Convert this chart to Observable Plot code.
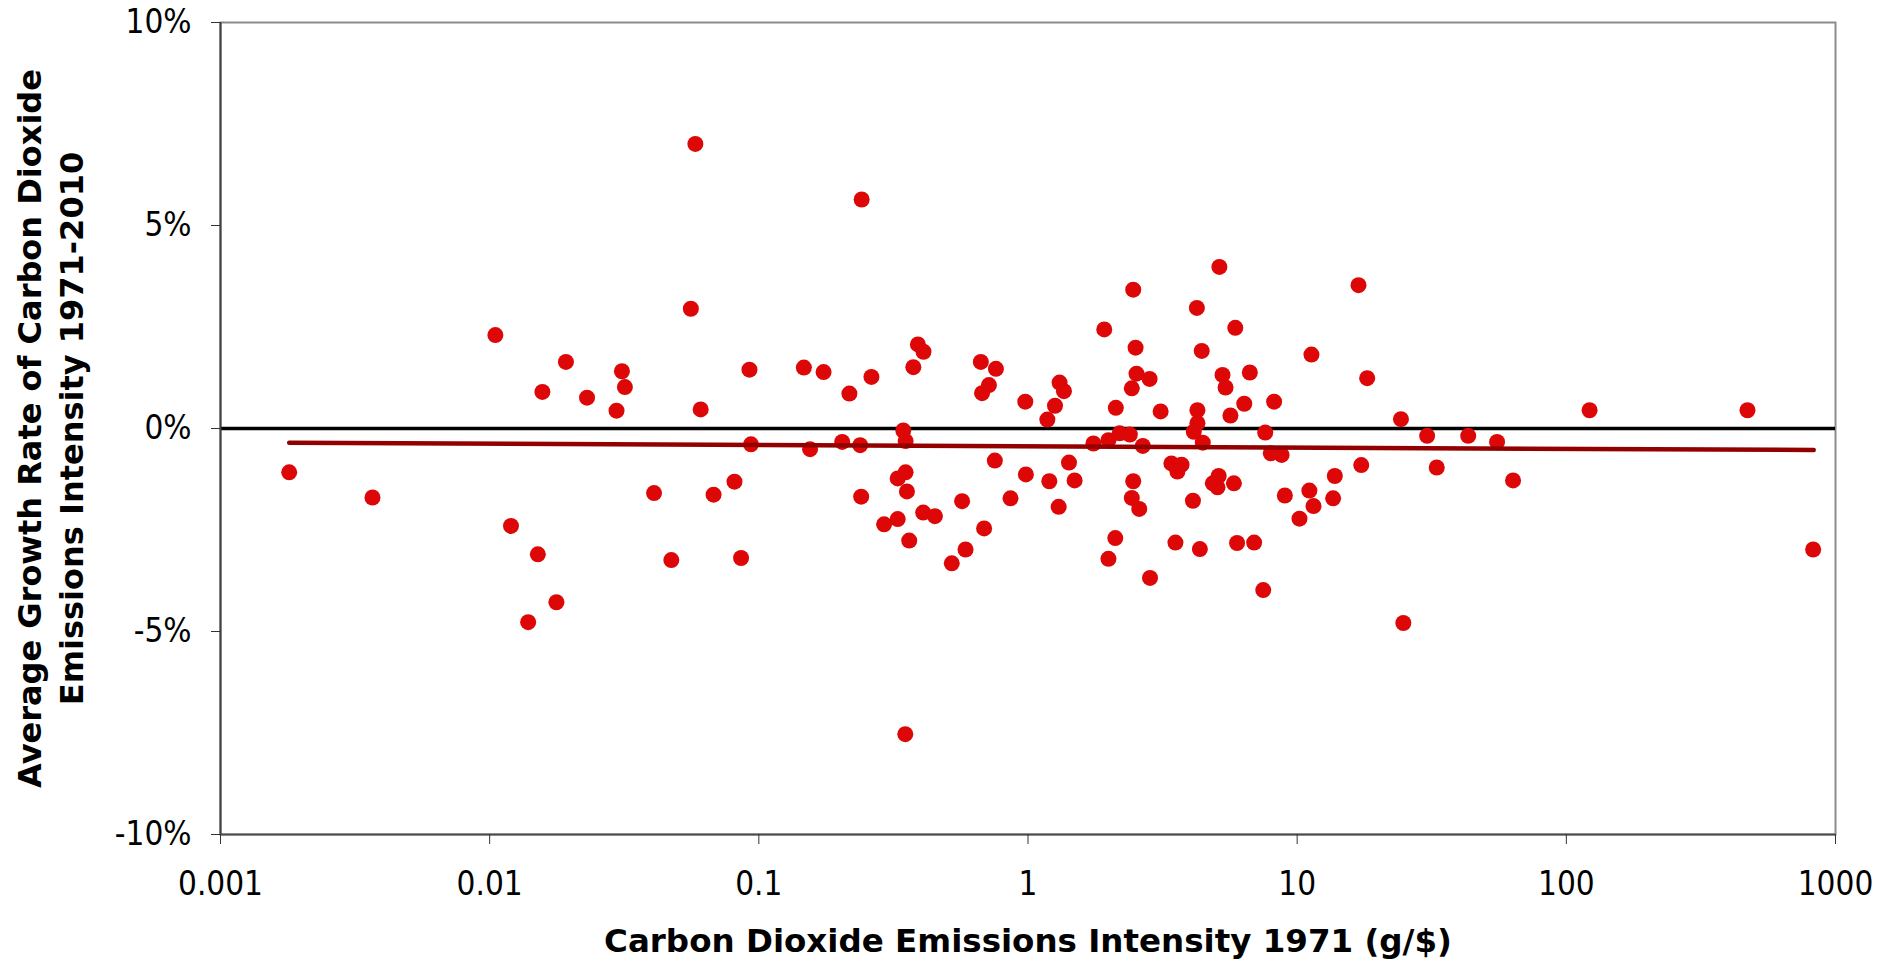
<!DOCTYPE html>
<html>
<head>
<meta charset="utf-8">
<script src="https://cdn.jsdelivr.net/npm/d3@7"></script>
<script src="https://cdn.jsdelivr.net/npm/@observablehq/plot@0.6"></script>
<style>
  html, body { margin: 0; padding: 0; background: white; }
  #chart { width: 1891px; height: 963px; }
</style>
</head>
<body>
<div id="chart"></div>
<script>
// Carbon Dioxide Emissions Intensity 1971 (g/$) — one value per country
const intensity1971 = [
  0.00180, 0.00367, 0.0105, 0.0120, 0.0139, 0.0151, 0.0157, 0.0177, 0.0192, 0.0230,
  0.0296, 0.0310, 0.0318, 0.0408, 0.0473, 0.0559, 0.0581, 0.0608, 0.0679, 0.0812,
  0.0859, 0.0923, 0.0935, 0.147, 0.155, 0.174, 0.204, 0.217, 0.238, 0.240,
  0.241, 0.262, 0.292, 0.328, 0.328, 0.344, 0.351, 0.351, 0.355, 0.362,
  0.350, 0.375, 0.390, 0.409, 0.408, 0.451, 0.521, 0.569, 0.586, 0.687,
  0.668, 0.675, 0.716, 0.760, 0.753, 0.861, 0.977, 0.982, 1.18, 1.26,
  1.20, 1.30, 1.31, 1.36, 1.42, 1.49, 1.75, 1.92, 1.99, 1.99,
  2.12, 2.11, 2.19, 2.39, 2.43, 2.46, 2.46, 2.43, 2.51, 2.53,
  2.59, 2.67, 2.83, 2.84, 3.11, 3.41, 3.72, 3.59, 3.53, 4.10,
  4.24, 4.26, 4.26, 4.13, 4.35, 4.42, 4.46, 4.86, 5.11, 5.06,
  5.14, 5.28, 5.42, 5.65, 5.82, 5.89, 5.98, 6.36, 6.67, 6.92,
  7.48, 7.61, 7.98, 8.21, 8.75, 9.00, 10.2, 11.1, 11.3, 11.5,
  13.6, 13.8, 16.9, 17.3, 18.2, 24.3, 24.8, 30.4, 33.0, 43.2,
  55.3, 63.4, 122, 471, 826
];
// Average growth rate of CO2 emissions intensity 1971-2010 (%)
const growthRate = [
  -1.08, -1.70, 2.30, -2.40, -4.77, -3.10, 0.90, -4.28, 1.64, 0.76,
  0.44, 1.41, 1.02, -1.59, -3.24, 2.95, 7.01, 0.47, -1.63, -1.31,
  -3.19, 1.45, -0.39, 1.50, -0.51, 1.39, -0.33, 0.86, -0.41, -1.68,
  5.64, 1.27, -2.36, -2.23, -1.23, -0.05, -0.31, -1.08, -1.55, -2.76,
  -7.53, 1.51, 2.07, 1.89, -2.07, -2.16, -3.32, -1.79, -2.98, -2.46,
  1.64, 0.87, 1.07, 1.47, -0.79, -1.72, 0.66, -1.13, 0.22, 0.56,
  -1.30, -1.93, 1.13, 0.92, -0.84, -1.28, -0.37, 2.44, -0.29, -3.21,
  0.51, -2.70, -0.12, -0.15, 0.99, 3.42, -1.30, -1.71, 1.99, 1.35,
  -1.98, -0.43, 1.22, -3.68, 0.42, -0.86, -0.89, -1.06, -2.81, -1.78,
  2.97, 0.45, 0.13, -0.08, -2.97, 1.91, -0.35, -1.35, -1.17, -1.45,
  3.98, 1.32, 1.01, 0.32, -1.35, 2.48, -2.82, 0.61, 1.38, -2.81,
  -3.98, -0.10, -0.61, 0.66, -0.65, -1.65, -2.22, -1.53, 1.82, -1.91,
  -1.72, -1.17, 3.53, -0.90, 1.24, 0.23, -4.79, -0.18, -0.96, -0.18,
  -0.33, -1.28, 0.45, 0.45, -2.98
];
// Trend line end points
const trendX = [0.0018, 830];
const trendY = [-0.35, -0.53];

const xTicks = [0.001, 0.01, 0.1, 1, 10, 100, 1000];
const yTicks = [-10, -5, 0, 5, 10];

const xTitle = "Carbon Dioxide Emissions Intensity 1971 (g/$)";
const yTitle = "Average Growth Rate of Carbon Dioxide\nEmissions Intensity 1971-2010";

const points = intensity1971.map((x, i) => ({x, y: growthRate[i]}));
const trend = trendX.map((x, i) => ({x, y: trendY[i]}));

const titleFont = "'DejaVu Sans', Verdana, sans-serif";

const chart = Plot.plot({
  width: 1891,
  height: 963,
  marginLeft: 220,
  marginRight: 56,
  marginTop: 22,
  marginBottom: 129,
  x: {type: "log", domain: [0.001, 1000]},
  y: {domain: [-10, 10]},
  style: {
    fontFamily: "'DejaVu Sans Condensed', 'DejaVu Sans', sans-serif",
    fontSize: "33px",
    color: "black",
    background: "white"
  },
  marks: [
    Plot.frame({stroke: "#8c8c8c", strokeWidth: 2}),
    Plot.ruleY([0], {stroke: "black", strokeWidth: 3.5}),
    Plot.dot(points, {x: "x", y: "y", r: 8, fill: "#dd0707"}),
    Plot.line(trend, {x: "x", y: "y", stroke: "#920000", strokeWidth: 4.5}),
    Plot.ruleX([0.001], {stroke: "#404040", strokeWidth: 2}),
    Plot.ruleY([-10], {stroke: "#505050", strokeWidth: 2}),
    Plot.axisX({ticks: xTicks, tickFormat: d => String(d), tickSize: 10, tickPadding: 27, label: null, stroke: "#333"}),
    Plot.axisY({ticks: yTicks, tickFormat: d => d + "%", tickSize: 9, tickPadding: 20, label: null, stroke: "#333"}),
    Plot.text([xTitle], {text: d => d, frameAnchor: "bottom", dy: 107, lineAnchor: "middle", textAnchor: "middle", fontSize: 32.5, fontWeight: "bold", fontFamily: titleFont, fill: "black"}),
    Plot.text([yTitle], {text: d => d, frameAnchor: "left", dx: -172, rotate: -90, textAnchor: "middle", lineAnchor: "middle", lineHeight: 1.32, fontSize: 32, fontWeight: "bold", fontFamily: titleFont, fill: "black"})
  ]
});
document.getElementById("chart").appendChild(chart);
</script>
</body>
</html>
